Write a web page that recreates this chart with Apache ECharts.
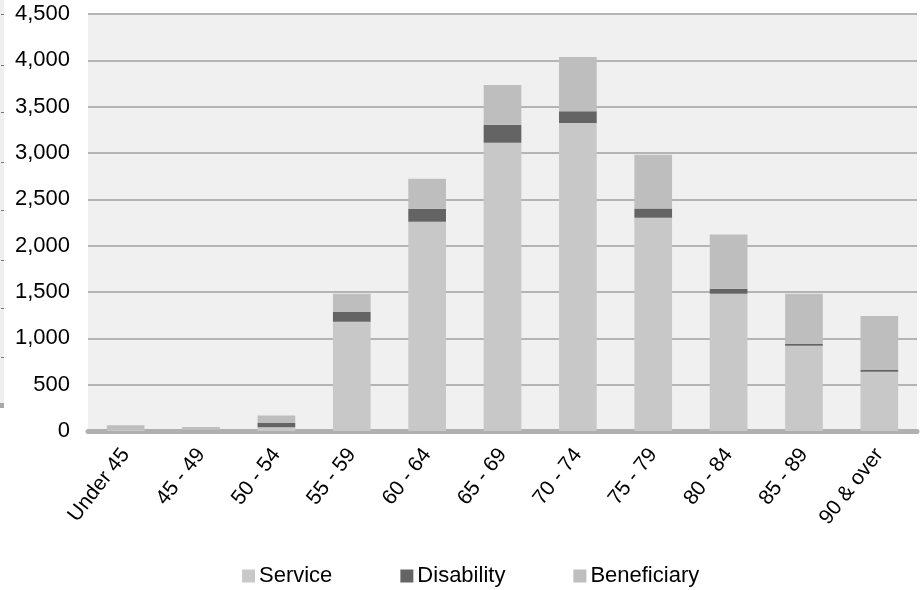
<!DOCTYPE html>
<html>
<head>
<meta charset="utf-8">
<script src="https://cdn.jsdelivr.net/npm/echarts@6/dist/echarts.min.js"></script>
<style>
  html, body { margin: 0; padding: 0; background: #ffffff; }
  #chart { width: 921px; height: 590px; }
</style>
</head>
<body>
<div id="chart"></div>
<script>
// Age bands on the category axis
const ageBands = ['Under 45', '45 - 49', '50 - 54', '55 - 59', '60 - 64', '65 - 69',
                  '70 - 74', '75 - 79', '80 - 84', '85 - 89', '90 & over'];

// Counts per age band, stacked bottom to top
const service     = [10, 5, 40, 1180, 2258, 3110, 3325, 2300, 1480, 920, 640];
const disability  = [2, 2, 45, 105, 140, 195, 125, 100, 55, 18, 18];
const beneficiary = [50, 37, 82, 197, 323, 430, 585, 580, 585, 543, 583];

// Value axis ticks
const yMin = 0, yMax = 4500, yStep = 500;

const chart = echarts.init(document.getElementById('chart'), null, { renderer: 'canvas' });

const font = 'Liberation Sans, Arial, sans-serif';

function stackSeries(name, data, color) {
  return {
    name: name,
    type: 'bar',
    stack: 'total',
    data: data,
    barWidth: '50%',
    itemStyle: { color: color, borderWidth: 0 },
    emphasis: { disabled: true }
  };
}

// Decorative edge strip on the far left
const strip = [{ type: 'rect', left: 0, top: 0, shape: { width: 4, height: 403 }, style: { fill: '#efefef' } },
               { type: 'rect', left: 0, top: 403, shape: { width: 4, height: 5 }, style: { fill: '#a8a8a8' } }];
[14, 65, 112, 162, 210, 260, 308, 357].forEach(function (y) {
  strip.push({ type: 'rect', left: 1, top: y, shape: { width: 3, height: 1 }, style: { fill: '#777777' } });
});

chart.setOption({
  animation: false,
  backgroundColor: '#ffffff',
  textStyle: { fontFamily: font },
  graphic: strip,
  grid: {
    left: 88, right: 4, top: 14, bottom: 159,
    show: true, backgroundColor: '#f0f0f0', borderWidth: 0
  },
  legend: {
    top: 560,
    left: 237,
    itemWidth: 13,
    itemHeight: 13,
    itemGap: 68,
    icon: 'rect',
    itemStyle: { borderWidth: 0 },
    textStyle: { fontSize: 22, color: '#000000', fontFamily: font, padding: [0, 0, 0, -1] },
    data: ['Service', 'Disability', 'Beneficiary']
  },
  xAxis: {
    type: 'category',
    data: ageBands,
    axisLine: { show: true, lineStyle: { color: '#b0b0b0', width: 5 } },
    axisTick: { show: false },
    axisLabel: {
      rotate: 52, fontSize: 21, color: '#000000', margin: 20, interval: 0, fontFamily: font
    }
  },
  yAxis: {
    type: 'value',
    min: yMin, max: yMax, interval: yStep,
    axisLine: { show: false },
    axisTick: { show: false },
    splitLine: { lineStyle: { color: '#b4b4b4', width: 2 } },
    axisLabel: {
      fontSize: 22, color: '#000000', margin: 18, fontFamily: font,
      formatter: function (v) { return v.toLocaleString('en-US'); }
    }
  },
  series: [
    stackSeries('Service', service, '#c8c8c8'),
    stackSeries('Disability', disability, '#646464'),
    stackSeries('Beneficiary', beneficiary, '#bebebe')
  ]
});
</script>
</body>
</html>
